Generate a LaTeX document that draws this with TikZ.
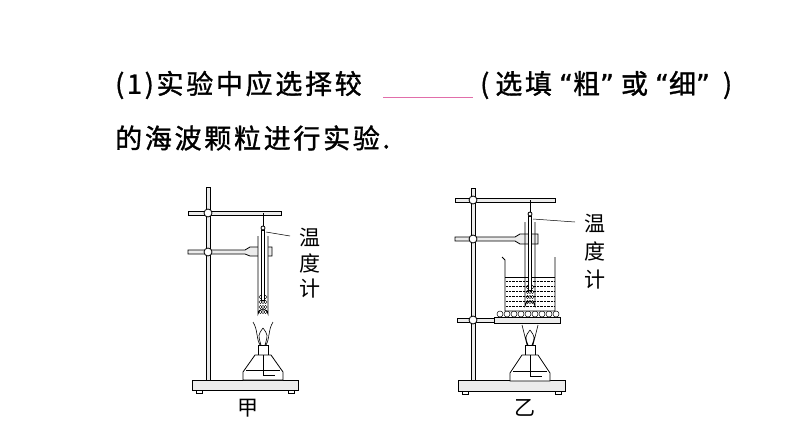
\documentclass[tikz,border=0pt]{standalone}
\usepackage{fontspec}
\setmainfont{Noto Sans CJK SC}
\newfontfamily\qfont[LetterSpace=10,FakeBold=1.2]{Noto Sans CJK SC}
\newfontfamily\quotefont[FakeBold=1.2]{DejaVu Sans}
\newcommand{\openq}{\hspace{7pt}{\quotefont “}}
\newcommand{\closeq}{{\quotefont ”}\hspace{7pt}}
\definecolor{blankpink}{RGB}{225,110,170}
\begin{document}
\begin{tikzpicture}[x=1pt,y=-1pt,
  part/.style={draw=black, line width=0.8pt, fill=white},
  rod/.style={draw=black, line width=0.8pt, fill=gray!15},
  lbl/.style={font=\fontsize{21}{21}\selectfont, inner sep=0pt},
  txt/.style={font=\qfont\fontsize{27}{27}\selectfont, inner sep=0pt}
  ]
\useasboundingbox (0,0) rectangle (794,447);
% question text
\node[txt, anchor=west] (q1) at (115,85) {(1)实验中应选择较};
\draw[blankpink, line width=1pt] (383,97) -- (473,97);
\node[txt, anchor=west] (q1b) at (480,85) {(\hspace{6pt}选填\openq 粗\closeq 或\openq 细\closeq\hspace{6pt})};
\node[txt, anchor=west] (q2) at (115,138) {的海波颗粒进行实验.};
% left apparatus (jia)
\draw[rod] (192,380) rectangle (298,390);
\draw[part] (196,390) rectangle (202,393) (288,390) rectangle (294,393);
\draw[rod] (206,187) rectangle (210,380);
\draw[rod] (188,211) rectangle (281,215);
\draw[rod] (188,250) -- (245,250) -- (250,247) -- (272,247) -- (272,256) -- (250,256) -- (245,254) -- (188,254) -- cycle;
\filldraw[fill=white, line width=0.8pt] (208,213) circle (4) (208,252) circle (4);
\draw[part] (258,236) -- (258,314) arc (180:360:5) -- (268,236);
\foreach \yy in {297,302,...,316}
  \foreach \xx in {260.5,263,265.5} \draw[line width=0.4pt] (\xx,\yy) circle (1.6);
\draw[line width=0.5pt] (263,213) -- (263,228);
\draw[part] (261.5,230) rectangle (264.5,300);
\draw[part] (263,228) circle (2);
\draw[line width=0.5pt] (266,232) -- (290,236);
\node[lbl] (t1) at (310,237) {温};
\node[lbl] (t2) at (310,263) {度};
\node[lbl] (t3) at (310,289) {计};
% burner
\draw[line width=0.6pt] (253,322) .. controls (258,330) and (256,338) .. (260,345)
  (273,322) .. controls (268,330) and (270,338) .. (266,345)
  (263,328) .. controls (258,335) .. (261,345) (263,328) .. controls (268,335) .. (265,345);
\draw[part] (258,345) rectangle (268,355);
\draw[part] (255,355) -- (243,372) -- (243,380) -- (283,380) -- (283,372) -- (271,355) -- cycle;
\draw[line width=0.5pt] (246,370) -- (280,370) (263,355) -- (263,375) -- (275,375);
\node[lbl] (jia) at (248,408) {甲};
% right apparatus (yi)
\draw[rod] (458,380) rectangle (565,391);
\draw[part] (462,391) rectangle (468,394) (555,391) rectangle (561,394);
\draw[rod] (471,188) rectangle (475,380);
\draw[rod] (455,198) rectangle (555,202);
\draw[rod] (455,237) -- (515,237) -- (520,234) -- (538,234) -- (538,244) -- (520,244) -- (515,241) -- (455,241) -- cycle;
\draw[rod] (457,318) rectangle (494,322);
\draw[rod] (494,317) rectangle (560,323);
\filldraw[fill=white, line width=0.8pt] (473,200) circle (4) (473,239) circle (4) (473,320) circle (4);
\foreach \xx in {500,507,...,556} \draw[line width=0.5pt, fill=white] (\xx,314) circle (3);
\draw[part] (502,257) -- (505,260) -- (505,311) -- (555,311) -- (555,257);
\foreach \yy in {281,286,...,306} \draw[densely dotted, line width=0.4pt] (506,\yy) -- (554,\yy);
\draw[line width=0.5pt] (505,277) -- (555,277);
\draw[part, fill=none] (525,222) -- (525,306) arc (180:360:5) -- (535,222);
\foreach \yy in {287,292,...,306}
  \foreach \xx in {527.5,530,532.5} \draw[line width=0.4pt] (\xx,\yy) circle (1.6);
\draw[line width=0.5pt] (530,200) -- (530,214);
\draw[part] (528.5,216) rectangle (531.5,290);
\draw[part] (530,214) circle (2);
\draw[line width=0.5pt] (533,219) -- (575,222);
\node[lbl] (t4) at (595,223) {温};
\node[lbl] (t5) at (595,251) {度};
\node[lbl] (t6) at (595,280) {计};
\draw[line width=0.6pt] (522,325) .. controls (525,335) .. (527,345)
  (538,325) .. controls (535,335) .. (533,345)
  (530,330) .. controls (525,337) .. (528,345) (530,330) .. controls (535,337) .. (532,345);
\draw[part] (525,345) rectangle (535,355);
\draw[part] (522,355) -- (510,373) -- (510,381) -- (550,381) -- (550,373) -- (538,355) -- cycle;
\draw[line width=0.5pt] (513,371) -- (547,371) (530,355) -- (530,376) -- (542,376);
\node[lbl] (yi) at (525,408) {乙};
\end{tikzpicture}
\end{document}
